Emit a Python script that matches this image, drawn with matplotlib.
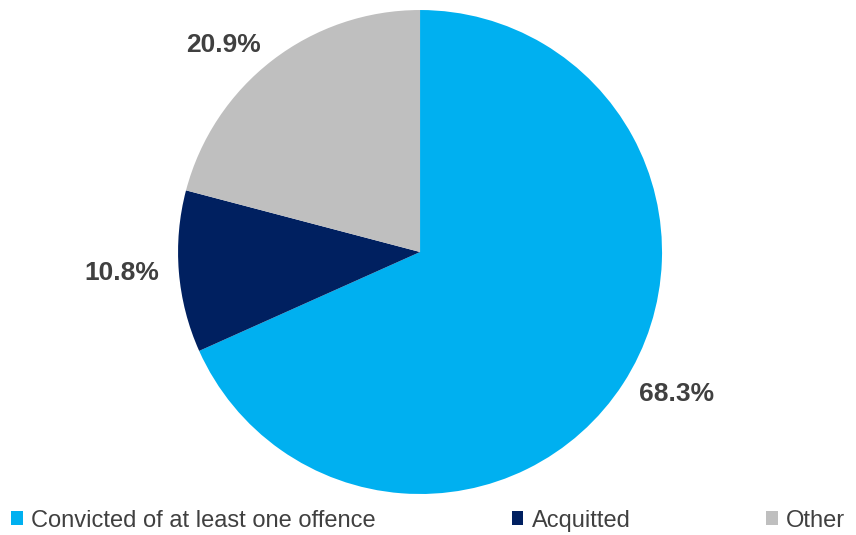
import matplotlib
matplotlib.use("Agg")
import matplotlib.pyplot as plt

plt.rcParams['font.family'] = ['Liberation Sans', 'DejaVu Sans']

# data
categories = ['Convicted of at least one offence', 'Acquitted', 'Other']
shares = [68.3, 10.8, 20.9]
colors = ['#00B0F0', '#002060', '#BFBFBF']
labels = ['68.3%', '10.8%', '20.9%']

fig = plt.figure(figsize=(8.56, 5.35), dpi=100)
ax = fig.add_axes([0.208, 0.0766, 0.5654, 0.9047])

wedges, texts = ax.pie(shares, colors=colors, labels=labels, startangle=90,
                       counterclock=False, radius=1, labeldistance=1.08,
                       textprops={'fontsize': 19, 'fontweight': 'bold',
                                  'color': '#404040'})
ax.set_xlim(-1, 1)
ax.set_ylim(-1, 1)
ax.set_aspect('equal')
ax.axis('off')

fig.legend(wedges, categories, loc='center left', bbox_to_anchor=(0.013, 0.027),
           ncol=3, frameon=False, fontsize=17, handlelength=0.5,
           handleheight=0.5, handletextpad=0.35, columnspacing=5.75,
           labelcolor='#404040', borderpad=0, borderaxespad=0)

plt.savefig('out.png', dpi=100)
